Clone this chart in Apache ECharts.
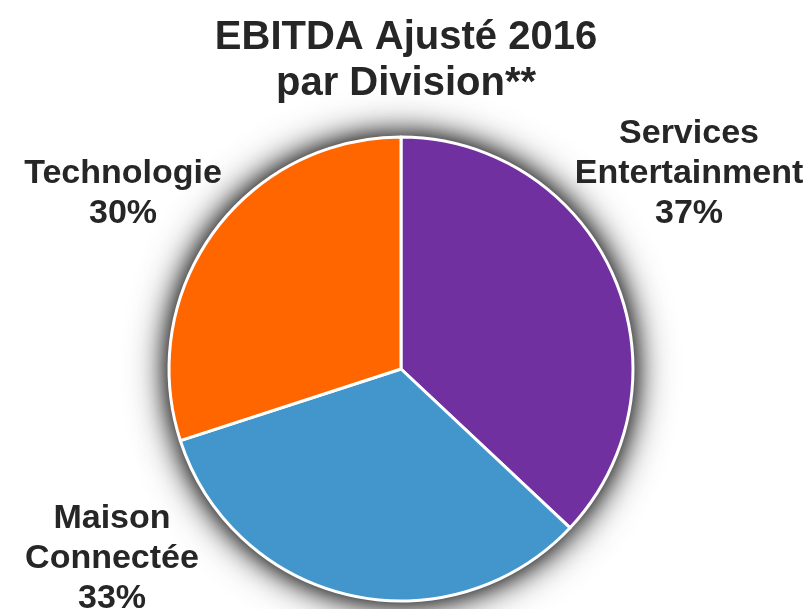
<!DOCTYPE html>
<html>
<head>
<meta charset="utf-8">
<script src="https://cdn.jsdelivr.net/npm/echarts@6/dist/echarts.min.js"></script>
<style>
html,body{margin:0;padding:0;background:#fff;}
#chart{width:812px;height:609px;}
</style>
</head>
<body>
<div id="chart"></div>
<script>
const categories = ['Services\nEntertainment', 'Maison\nConnectée', 'Technologie'];
const values = [37, 33, 30];
const colors = ['#7030A0', '#4296CB', '#FF6600'];
const titleText = 'EBITDA Ajusté 2016\npar Division**';

const labelPos = [[689, 174], [112, 559], [123, 194]];

const chart = echarts.init(document.getElementById('chart'), null, {renderer: 'canvas'});
const data = categories.map((c, i) => ({name: c, value: values[i], itemStyle: {color: colors[i]}}));
const FONT = '"Liberation Sans", Arial, Helvetica, sans-serif';

function shadowLayer(blur, alpha) {
  return {
    type: 'pie',
    center: [401, 369],
    radius: 233,
    startAngle: 90,
    clockwise: true,
    silent: true,
    label: {show: false},
    labelLine: {show: false},
    itemStyle: {borderWidth: 0, shadowBlur: blur, shadowColor: 'rgba(0,0,0,' + alpha + ')'},
    data: data
  };
}

chart.setOption({
  animation: false,
  backgroundColor: '#ffffff',
  title: {
    text: titleText,
    left: 'center',
    top: 10,
    textStyle: {fontFamily: FONT, fontWeight: 'bold', fontSize: 40, lineHeight: 46, color: '#262626'}
  },
  series: [
    shadowLayer(40, 0.8),
    shadowLayer(22, 0.8),
    {
      type: 'pie',
      center: [401, 369],
      radius: 232,
      startAngle: 90,
      clockwise: true,
      silent: true,
      label: {
        show: true,
        position: 'outside',
        alignTo: 'none',
        overflow: 'none',
        width: 400,
        formatter: p => p.name + '\n' + p.value + '%',
        fontFamily: FONT, fontWeight: 'bold', fontSize: 34, lineHeight: 40,
        color: '#262626', align: 'center', verticalAlign: 'middle'
      },
      labelLine: {show: false},
      labelLayout: function (params) {
        const p = labelPos[params.dataIndex];
        return {x: p[0], y: p[1], align: 'center', verticalAlign: 'middle'};
      },
      itemStyle: {borderColor: '#fff', borderWidth: 3},
      data: data
    }
  ]
});
</script>
</body>
</html>
